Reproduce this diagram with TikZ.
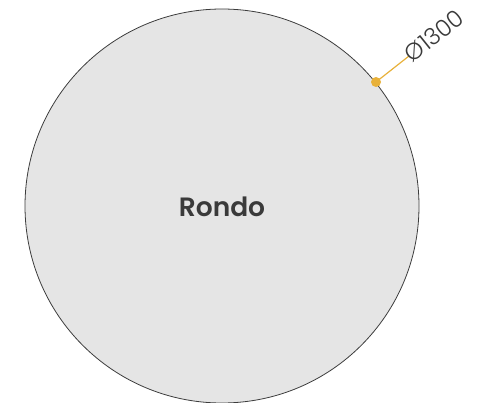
\documentclass[tikz,border=0pt]{standalone}
\usepackage{fontspec}
\setmainfont{Poppins}
\newfontfamily\lightfont{Poppins Light}
\newfontfamily\semifont{Poppins SemiBold}
\definecolor{fillg}{HTML}{E5E5E5}
\definecolor{lineg}{HTML}{3C3C3C}
\definecolor{dimo}{HTML}{E8B13A}
\definecolor{txt}{HTML}{3A3A3A}
\begin{document}
\begin{tikzpicture}[x=1pt,y=1pt,
  table/.style={circle,draw=lineg,fill=fillg,line width=0.8pt,minimum size=394pt,inner sep=0pt},
  dimline/.style={draw=dimo,line width=1.2pt},
  dimdot/.style={circle,fill=dimo,inner sep=0pt,minimum size=10pt},
  dimtxt/.style={text=txt,font=\lightfont\fontsize{23.5}{23.5}\selectfont,rotate=38.8,anchor=south west,inner sep=0pt}]
\useasboundingbox (0,0) rectangle (481,402);
\node[table] (t) at (222,196) {};
\node[font=\semifont\fontsize{26.5}{26.5}\selectfont,text=txt] (name) at (222,195) {Rondo};
\coordinate (d) at (376,320);
\node[dimdot] (dot) at (d) {};
\coordinate (e) at (409,346);
\draw[dimline] (dot.center) -- (e);
\node[dimtxt] (lab) at (413,338) {Ø1300};
\end{tikzpicture}
\end{document}
